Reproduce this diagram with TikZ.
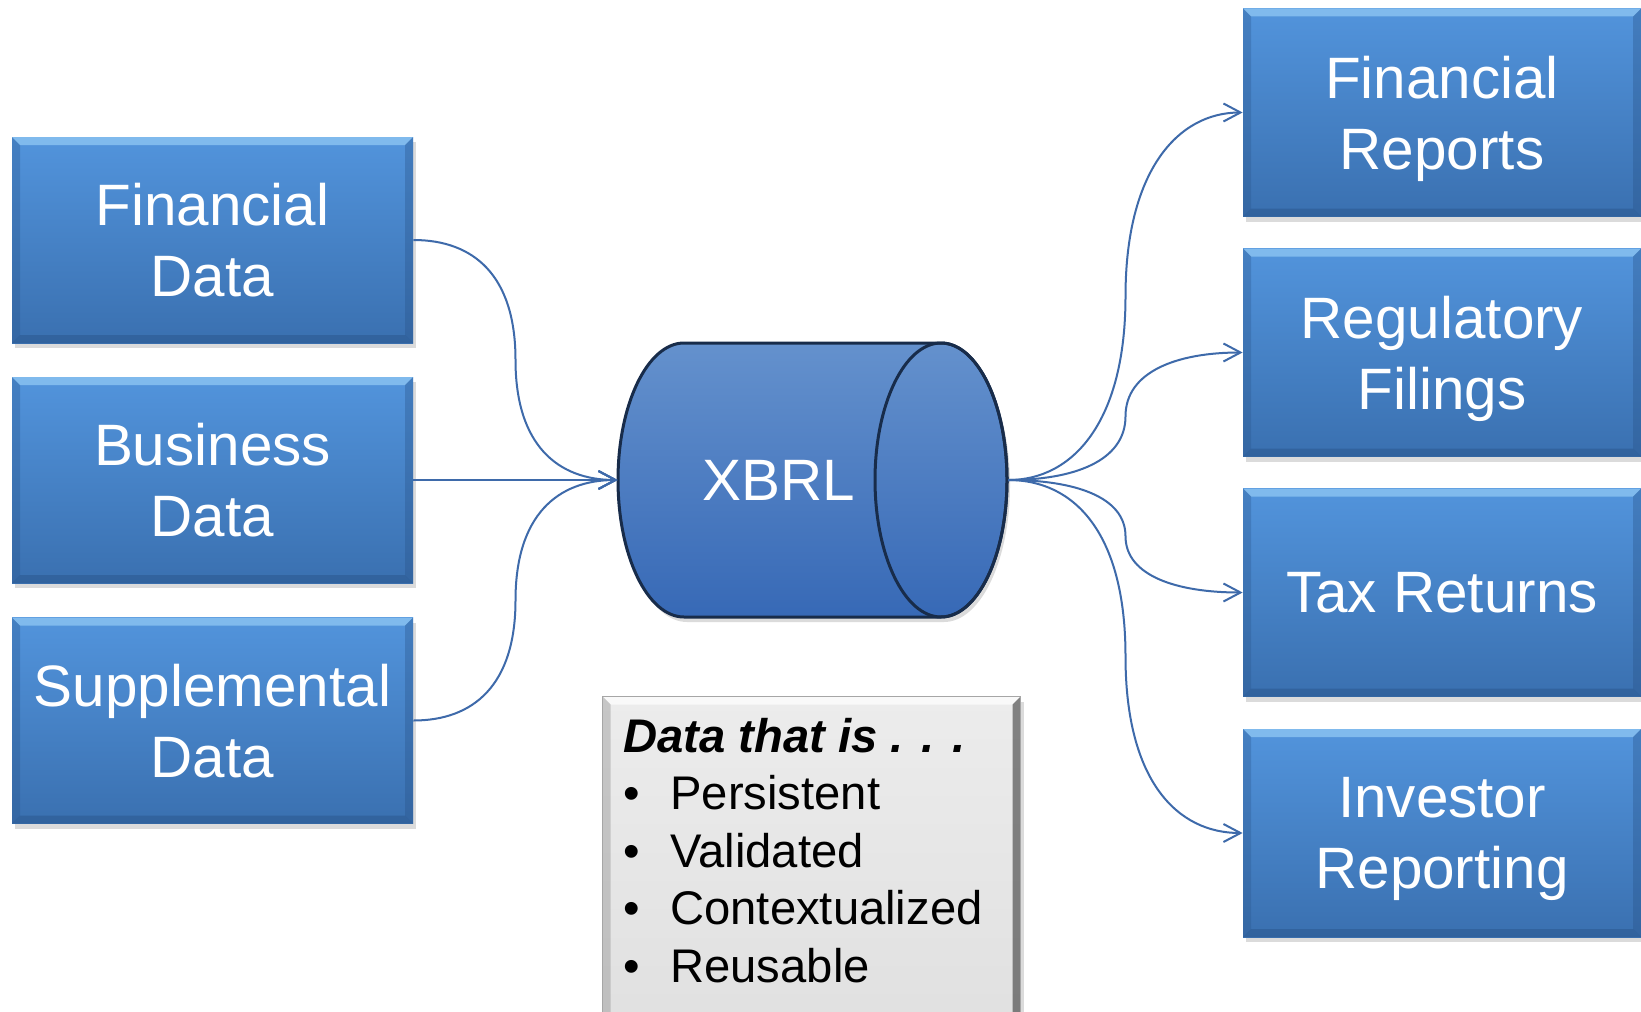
\documentclass[tikz,border=0pt]{standalone}
\usepackage{fontspec}
\setmainfont{Liberation Sans}
\usetikzlibrary{arrows.meta,calc,shadows}

\definecolor{boxtop}{RGB}{82,148,220}
\definecolor{boxbot}{RGB}{58,112,176}
\definecolor{bevlight}{RGB}{140,196,242}
\definecolor{bevdark}{RGB}{40,82,135}
\definecolor{cyltop}{RGB}{100,145,205}
\definecolor{cylbot}{RGB}{55,105,182}
\definecolor{cylline}{RGB}{24,44,74}
\definecolor{wire}{RGB}{62,106,170}
\definecolor{paneltop}{RGB}{236,236,236}
\definecolor{panelbot}{RGB}{224,224,224}

\begin{document}
\begin{tikzpicture}[x=0.5pt,y=-0.5pt,
  shadowed/.style={drop shadow={opacity=0.28,shadow xshift=1.5pt,shadow yshift=-2.5pt}},
  blockbox/.style={shadowed, top color=boxtop, bottom color=boxbot, inner sep=0pt,
    text=white, font=\fontsize{29.2}{35.5}\selectfont, align=center, text depth=0pt,
    path picture={
      \fill[bevlight,opacity=0.8] (path picture bounding box.north west) -- (path picture bounding box.north east)
        -- ([xshift=-4pt,yshift=-4pt]path picture bounding box.north east) -- ([xshift=4pt,yshift=-4pt]path picture bounding box.north west) -- cycle;
      \fill[bevdark,opacity=0.45] (path picture bounding box.south west) -- (path picture bounding box.south east)
        -- ([xshift=-4pt,yshift=4pt]path picture bounding box.south east) -- ([xshift=4pt,yshift=4pt]path picture bounding box.south west) -- cycle;
      \fill[bevdark,opacity=0.3] (path picture bounding box.north west) -- ([xshift=4pt,yshift=-4pt]path picture bounding box.north west)
        -- ([xshift=4pt,yshift=4pt]path picture bounding box.south west) -- (path picture bounding box.south west) -- cycle;
      \fill[bevdark,opacity=0.35] (path picture bounding box.north east) -- ([xshift=-4pt,yshift=-4pt]path picture bounding box.north east)
        -- ([xshift=-4pt,yshift=4pt]path picture bounding box.south east) -- (path picture bounding box.south east) -- cycle;
    }},
  leftbox/.style={blockbox, minimum width=200.5pt, minimum height=103pt},
  rightbox/.style={blockbox, minimum width=199pt, minimum height=104pt},
  panelbox/.style={shadowed, top color=paneltop, bottom color=panelbot, draw=gray!70, line width=0.5pt, inner sep=0pt,
    path picture={
      \fill[white,opacity=0.7] (path picture bounding box.north west) -- (path picture bounding box.north east)
        -- ([xshift=-4pt,yshift=-4pt]path picture bounding box.north east) -- ([xshift=4pt,yshift=-4pt]path picture bounding box.north west) -- cycle;
      \fill[gray,opacity=0.35] (path picture bounding box.north west) -- ([xshift=4pt,yshift=-4pt]path picture bounding box.north west)
        -- ([xshift=4pt,yshift=4pt]path picture bounding box.south west) -- (path picture bounding box.south west) -- cycle;
      \fill[black,opacity=0.45] (path picture bounding box.north east) -- ([xshift=-4pt,yshift=-4pt]path picture bounding box.north east)
        -- ([xshift=-4pt,yshift=4pt]path picture bounding box.south east) -- (path picture bounding box.south east) -- cycle;
    }},
  traitline/.style={anchor=base west, inner sep=0pt, font=\fontsize{23.6}{28.75}\selectfont},
  wirearrow/.style={draw=wire, line width=1pt, -{Straight Barb[length=8.5pt,width=9pt]}}]

\useasboundingbox (0,0) rectangle (1641,1011);
\clip (0,0) rectangle (1641,1011);
\fill[white] (0,0) rectangle (1641,1011);

% source boxes
\node[leftbox] (fd) at (212.5,240)   {Financial\\Data};
\node[leftbox] (bd) at (212.5,480)   {Business\\Data};
\node[leftbox] (sd) at (212.5,720.5) {Supplemental\\Data};

% output boxes
\node[rightbox] (fr) at (1442,112.5) {Financial\\Reports};
\node[rightbox] (rf) at (1442,352.5) {Regulatory\\Filings};
\node[rightbox] (tr) at (1442,592.5) {Tax Returns};
\node[rightbox] (ir) at (1442,833)   {Investor\\Reporting};

% XBRL cylinder
\path[shadowed, top color=cyltop, bottom color=cylbot, draw=cylline, line width=1.5pt]
  (684,617) arc[start angle=90,end angle=270,x radius=66,y radius=137]
  -- (941,343) arc[start angle=270,end angle=450,x radius=66,y radius=137] -- cycle;
\draw[cylline, line width=1.5pt] (941,480) ellipse[x radius=66,y radius=137];
\node[inner sep=0pt, minimum width=195pt, minimum height=137.5pt] (xbrl) at (813,480) {};
\node[text=white, inner sep=0pt, text depth=0pt, font=\fontsize{29.2}{35.5}\selectfont] (xbrllabel) at (779,480) {XBRL};

% properties panel
\node[panelbox, anchor=north west, minimum width=209pt, minimum height=170pt] (panel) at (602,696) {};
\node[traitline] (t0) at (623,752)   {\textbf{\textit{Data that is . . .}}};
\node[traitline] (t1) at (623,809.5) {\makebox[23.5pt][l]{•}Persistent};
\node[traitline] (t2) at (623,867)   {\makebox[23.5pt][l]{•}Validated};
\node[traitline] (t3) at (623,924.5) {\makebox[23.5pt][l]{•}Contextualized};
\node[traitline] (t4) at (623,982)   {\makebox[23.5pt][l]{•}Reusable};

% midpoints of the curved connectors
\coordinate (mfd) at ($(fd.east)!0.5!(xbrl.west)$);
\coordinate (msd) at ($(sd.east)!0.5!(xbrl.west)$);
\coordinate (mfr) at ($(xbrl.east)!0.5!(fr.west)$);
\coordinate (mrf) at ($(xbrl.east)!0.5!(rf.west)$);
\coordinate (mtr) at ($(xbrl.east)!0.5!(tr.west)$);
\coordinate (mir) at ($(xbrl.east)!0.5!(ir.west)$);

% inputs
\draw[wirearrow] (fd.east) .. controls +(60,0) and +(0,-85) .. (mfd) .. controls +(0,85) and +(-60,0) .. (xbrl.west);
\draw[wirearrow] (bd.east) -- (xbrl.west);
\draw[wirearrow] (sd.east) .. controls +(60,0) and +(0,85) .. (msd) .. controls +(0,-85) and +(-60,0) .. (xbrl.west);

% outputs
\draw[wirearrow] (xbrl.east) .. controls +(65,0) and +(0,125) .. (mfr) .. controls +(0,-125) and +(-65,0) .. (fr.west);
\draw[wirearrow] (xbrl.east) .. controls +(65,0) and +(0,45) .. (mrf) .. controls +(0,-45) and +(-65,0) .. (rf.west);
\draw[wirearrow] (xbrl.east) .. controls +(65,0) and +(0,-40) .. (mtr) .. controls +(0,40) and +(-65,0) .. (tr.west);
\draw[wirearrow] (xbrl.east) .. controls +(65,0) and +(0,-125) .. (mir) .. controls +(0,125) and +(-65,0) .. (ir.west);
\end{tikzpicture}
\end{document}
